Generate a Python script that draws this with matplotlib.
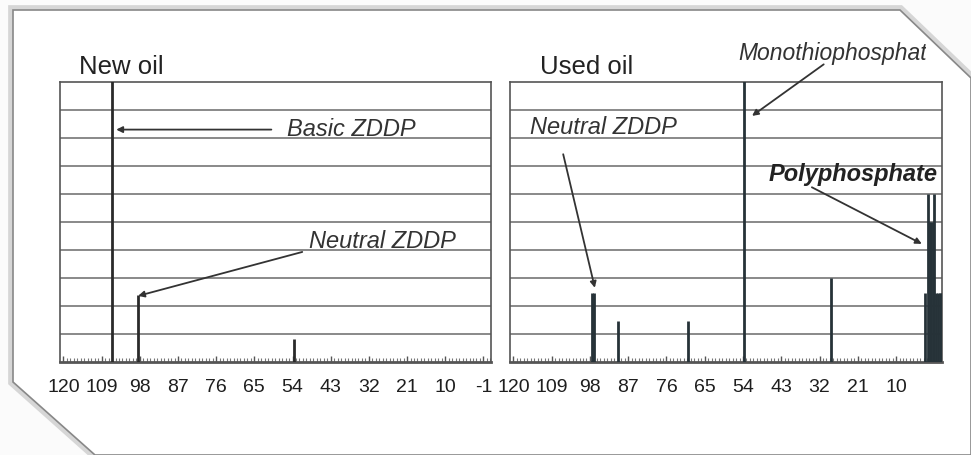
import numpy as np
import matplotlib
matplotlib.use('Agg')
import matplotlib.pyplot as plt
from matplotlib.patches import Polygon, Rectangle

plt.rcParams['font.family'] = ['Liberation Sans', 'DejaVu Sans']

# peak positions (ppm) and heights (grid divisions)
new_pos = [105.9, 98.6, 53.5]
new_height = [10.5, 2.4, 0.83]

used_pos = [97.3, 96.7, 90.0, 69.8, 53.6, 28.6,
            1.67, 0.86, 0.34, -0.1, -0.5, -1.03, -1.5, -2.07, -2.6, -3.0]
used_height = [2.47, 2.47, 1.48, 1.48, 10.5, 3.0,
               2.45, 6.0, 5.0, 5.0, 5.0, 6.0, 2.45, 2.45, 2.45, 2.45]

left_ticks = [120, 109, 98, 87, 76, 65, 54, 43, 32, 21, 10, -1]
right_ticks = [120, 109, 98, 87, 76, 65, 54, 43, 32, 21, 10]

W, H = 971, 455
fig = plt.figure(figsize=(9.71, 4.55), dpi=100)
fig.patch.set_facecolor('#fbfbfb')

# page outline (scanned sheet with cut corners)
page_px = [(13, 10), (900, 10), (971, 78), (971, 455), (95, 455), (13, 382)]
page_xy = [(x / W, 1 - y / H) for x, y in page_px]
shadow = Polygon(page_xy, closed=True, transform=fig.transFigure, facecolor='none',
                 edgecolor='#d6d6d6', lw=7, zorder=-3)
page = Polygon(page_xy, closed=True, transform=fig.transFigure, facecolor='white',
               edgecolor='#888888', lw=1.2, zorder=-2)
fig.patches.extend([shadow, page])

ax1 = fig.add_axes([0.0618, 0.2044, 0.4439, 0.6154])
ax2 = fig.add_axes([0.5252, 0.2044, 0.4449, 0.6154])


def style_panel(ax, ticks):
    ax.set_xlim(121, -3.2)
    ax.set_ylim(0, 10)
    ax.set_facecolor('white')
    for y in range(1, 10):
        ax.axhline(y, color='#6a6a6a', lw=1.1, zorder=1)
    ax.set_yticks([])
    ax.set_xticks(ticks)
    ax.set_xticklabels([str(t) for t in ticks], fontsize=14, color='#1e1e1e')
    ax.set_xticks(np.arange(-3, 121, 1), minor=True)
    ax.tick_params(axis='x', which='major', direction='in', length=4, width=1, color='#555555', pad=12)
    ax.tick_params(axis='x', which='minor', direction='in', length=3, width=0.8, color='#777777')
    for s in ax.spines.values():
        s.set_color('#555555')
        s.set_linewidth(1.2)
    ax.spines['bottom'].set_linewidth(2)


style_panel(ax1, left_ticks)
style_panel(ax2, right_ticks)

ax1.vlines(new_pos, 0, new_height, color='#2a2a2a', lw=2, zorder=3)
ax2.vlines(used_pos, 0, used_height, color='#263238', lw=2, zorder=3)

ax1.text(115.5, 10.12, 'New oil', fontsize=18.5, color='#222222', va='bottom')
ax2.text(112.5, 10.12, 'Used oil', fontsize=18.5, color='#222222', va='bottom')

arrow = dict(arrowstyle='-|>', color='#333333', lw=1.3, mutation_scale=9, shrinkA=0, shrinkB=0)

ax1.annotate('', xy=(104.8, 8.3), xytext=(60.1, 8.3), arrowprops=arrow)
ax1.text(55.5, 8.3, 'Basic ZDDP', fontsize=17, style='italic', color='#333333', va='center')
ax1.annotate('', xy=(98.5, 2.36), xytext=(51.2, 3.93), arrowprops=arrow)
ax1.text(49.2, 4.3, 'Neutral ZDDP', fontsize=17, style='italic', color='#333333', va='center')

ax2.text(115.1, 8.36, 'Neutral ZDDP', fontsize=17, style='italic', color='#333333', va='center')
ax2.annotate('', xy=(96.6, 2.65), xytext=(105.7, 7.42), arrowprops=arrow)
mono = ax2.text(55.3, 11.0, 'Monothiophosphate', fontsize=16.5, style='italic', color='#333333',
                va='center', clip_on=True)
# the scanned page corner cuts the label off
mono.set_clip_path(Rectangle((0, 0), 926 / W, 1, transform=fig.transFigure))
mono.set_clip_on(True)
ax2.annotate('', xy=(51.4, 8.79), xytext=(30.8, 10.63), arrowprops=arrow, annotation_clip=False)
ax2.text(46.7, 6.69, 'Polyphosphate', fontsize=17, style='italic', weight='bold',
         color='#222222', va='center')
ax2.annotate('', xy=(2.6, 4.22), xytext=(34.2, 6.24), arrowprops=arrow)

fig.savefig('out.png', dpi=100, facecolor=fig.get_facecolor())
